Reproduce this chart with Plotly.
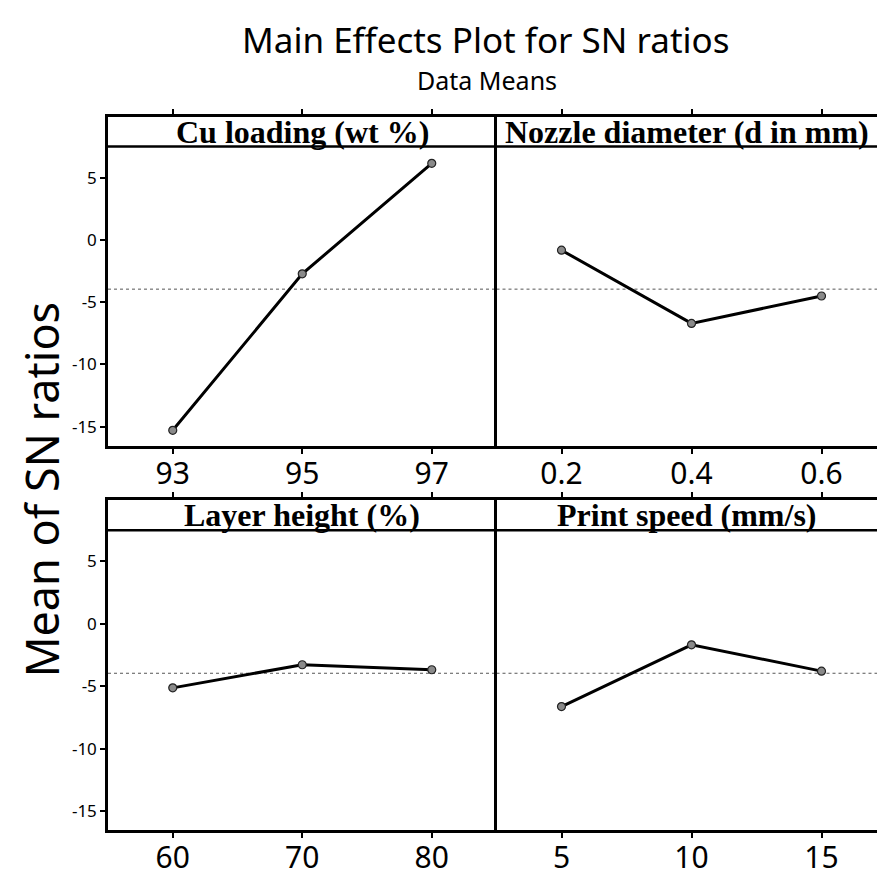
import plotly.graph_objects as go
import numpy as np

# ---- data ----
factors = ["Cu loading (wt %)", "Nozzle diameter (d in mm)", "Layer height (%)", "Print speed (mm/s)"]
cu_levels = [93, 95, 97]
cu_sn = [-15.3, -2.73, 6.15]
nozzle_levels = [0.2, 0.4, 0.6]
nozzle_sn = [-0.83, -6.71, -4.51]
layer_levels = [60, 70, 80]
layer_sn = [-5.13, -3.28, -3.68]
speed_levels = [5, 10, 15]
speed_sn = [-6.63, -1.68, -3.79]
y_tickvals = [-15, -10, -5, 0, 5]
y_ticktext = ["-15", "-10", "-5", "0", "5"]

levels = [cu_levels, nozzle_levels, layer_levels, speed_levels]
values = [cu_sn, nozzle_sn, layer_sn, speed_sn]
grand_mean = float(np.mean(cu_sn))

W = H = 877
# pixel geometry
xl0, xm, xr1 = 108, 496.5, 877
top_px = [(118, 451), (506, 840)]
xranges = [[92, 98], [0.1, 0.1 + 0.2 * (xr1 - xm) / 130.0], [55, 85], [2.5, 2.5 + 5 * (xr1 - xm) / 130.0]]
yrange = [-16.55, 9.9]
strip_y = 7.5

SANS = "Noto Sans"

fig = go.Figure()
layout = dict(width=W, height=H, margin=dict(l=0, r=0, t=0, b=0),
              plot_bgcolor="white", paper_bgcolor="white", showlegend=False)

shapes = []
annotations = []
for i in range(4):
    row, col = divmod(i, 2)
    ax = "" if i == 0 else str(i + 1)
    xdom = [xl0 / W, xm / W] if col == 0 else [xm / W, 1.0]
    t, b = top_px[row]
    ydom = [1 - b / H, 1 - t / H]
    fig.add_trace(go.Scatter(
        x=levels[i], y=values[i], xaxis="x" + ax, yaxis="y" + ax,
        mode="lines+markers",
        line=dict(color="black", width=3),
        marker=dict(size=8, color="#8a8a8a", line=dict(color="#222", width=1.2)),
    ))
    layout["xaxis" + ax] = dict(
        domain=xdom, anchor="y" + ax, range=xranges[i],
        tickvals=levels[i], ticktext=[str(v) for v in levels[i]],
        showline=True, linecolor="black", linewidth=2.5, mirror="ticks",
        ticks="outside", ticklen=5, tickwidth=2, tickcolor="black",
        ticklabelstandoff=-6,
        showgrid=False, zeroline=False,
        tickfont=dict(family=SANS, size=30, color="black"),
    )
    layout["yaxis" + ax] = dict(
        domain=ydom, anchor="x" + ax, range=yrange,
        tickvals=y_tickvals, ticktext=y_ticktext,
        showline=True, linecolor="black", linewidth=2.5,
        ticks="outside" if col == 0 else "", ticklen=5, tickwidth=2, tickcolor="black",
        showticklabels=(col == 0), ticklabelstandoff=0,
        showgrid=False, zeroline=False,
        tickfont=dict(family=SANS, size=17, color="black"),
    )
    # strip bottom line
    shapes.append(dict(type="line", xref=f"x{ax} domain", yref="y" + ax,
                       x0=0, x1=1, y0=strip_y, y1=strip_y,
                       line=dict(color="black", width=2.5)))
    # mean line
    shapes.append(dict(type="line", xref=f"x{ax} domain", yref="y" + ax,
                       x0=0, x1=1, y0=grand_mean, y1=grand_mean,
                       line=dict(color="#555", width=1, dash="dot"), layer="below"))
    annotations.append(dict(text="<b>" + factors[i] + "</b>", xref=f"x{ax} domain", yref="y" + ax,
                            x=0.5, y=(strip_y + yrange[1]) / 2, showarrow=False,
                            xanchor="center", yanchor="middle",
                            font=dict(family="Liberation Serif", size=32, color="black")))

annotations.append(dict(text="Main Effects Plot for SN ratios", xref="paper", yref="paper",
                        x=486 / W, y=1 - 40 / H, showarrow=False, xanchor="center", yanchor="middle",
                        font=dict(family=SANS, size=35, color="black")))
annotations.append(dict(text="Data Means", xref="paper", yref="paper",
                        x=487 / W, y=1 - 81 / H, showarrow=False, xanchor="center", yanchor="middle",
                        font=dict(family=SANS, size=25, color="black")))
annotations.append(dict(text="Mean of SN ratios", xref="paper", yref="paper",
                        x=41 / W, y=1 - 495 / H, showarrow=False, xanchor="center", yanchor="middle",
                        textangle=-90,
                        font=dict(family=SANS, size=45, color="black")))

layout["shapes"] = shapes
layout["annotations"] = annotations
fig.update_layout(**layout)
fig.write_html("out.html", config={"displayModeBar": False},
               post_script="document.body.style.margin='0';document.body.style.overflow='hidden';")
